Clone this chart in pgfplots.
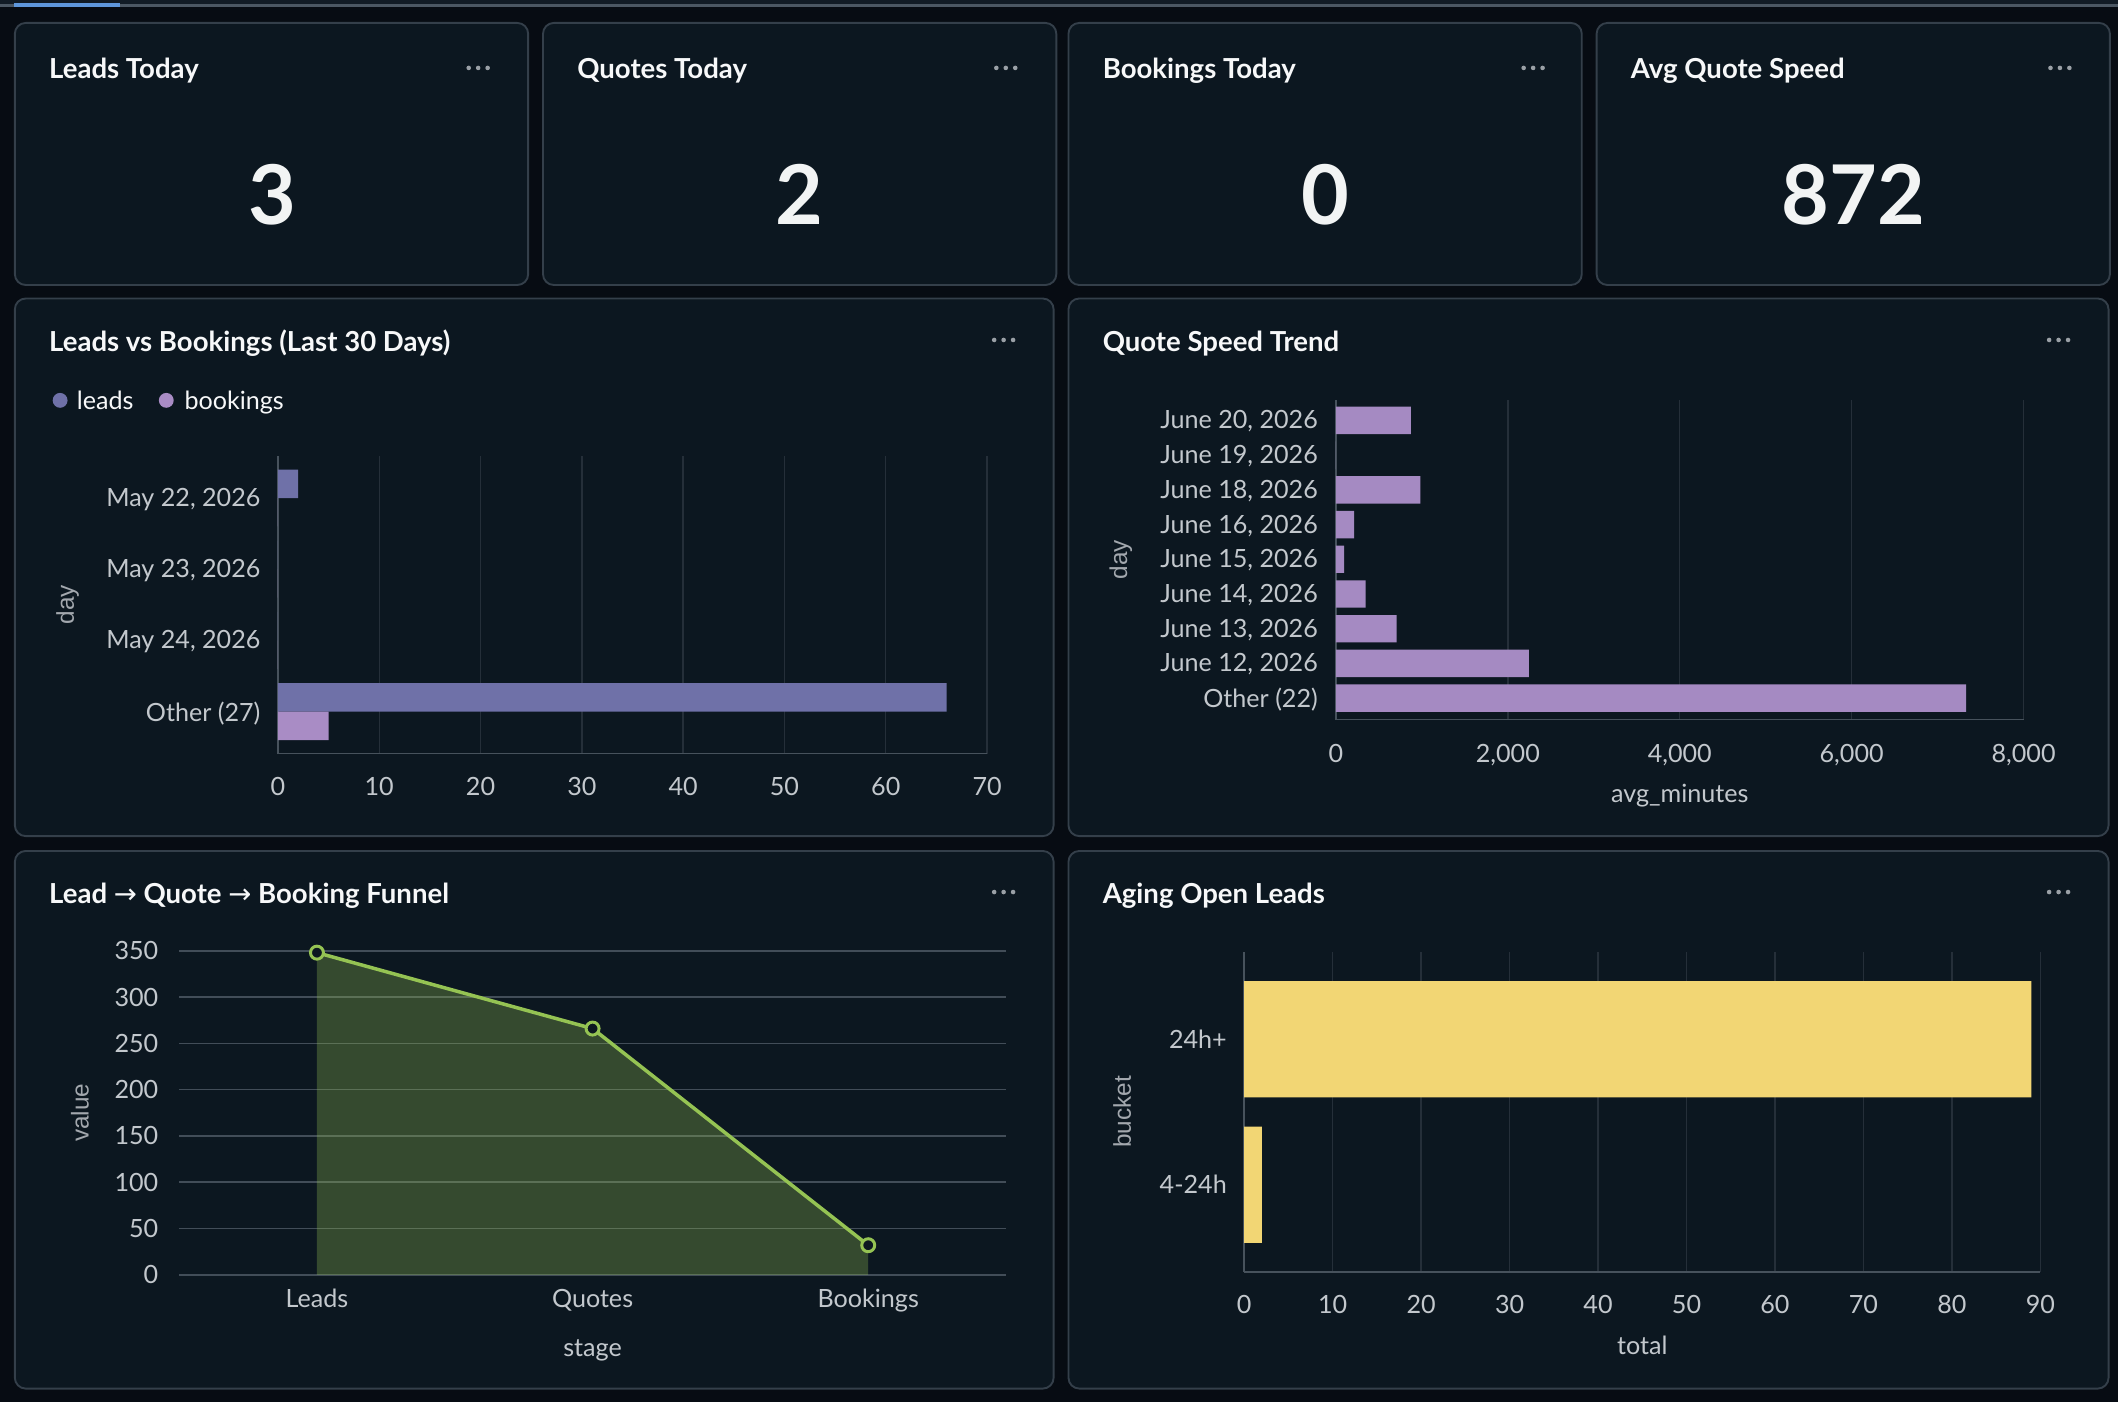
\documentclass[border=0pt]{standalone}
\usepackage{pgfplots}
\pgfplotsset{compat=1.18}
\usepackage{fontspec}
\setmainfont{Lato}
\newfontfamily\axisfont{Liberation Sans}
\newfontfamily\symfont{DejaVu Sans}

\definecolor{pagebg}{HTML}{070C13}
\definecolor{stripbg}{HTML}{111B25}
\definecolor{stripline}{HTML}{4B5763}
\definecolor{stripblue}{HTML}{5E97DC}
\definecolor{cardbg}{HTML}{0C1720}
\definecolor{cardborder}{HTML}{343F4A}
\definecolor{titlec}{HTML}{F7F8F9}
\definecolor{numc}{HTML}{F2F4F4}
\definecolor{tickc}{HTML}{C3C8CD}
\definecolor{labelc}{HTML}{A3A8AE}
\definecolor{dotc}{HTML}{9AA0A6}
\definecolor{gridc}{HTML}{252F39}
\definecolor{axisc}{HTML}{47525C}
\definecolor{fgridc}{HTML}{424D58}
\definecolor{leadsc}{HTML}{6F71A8}
\definecolor{bookc}{HTML}{A98CC5}
\definecolor{speedc}{HTML}{A58AC2}
\definecolor{agec}{HTML}{F2D674}
\definecolor{funnelc}{HTML}{95C353}

\newcommand\titlefont{\fontsize{10.2}{12}\selectfont\bfseries}
\newcommand\tickfont{\fontsize{9.3}{11}\selectfont}
\newcommand\bignum{\fontsize{30.5}{34}\selectfont\bfseries}
\newcommand\labfont{\axisfont\fontsize{9}{11}\selectfont}

% panel frame, title and menu dots (x, y measured from the top edge)
\newcommand\card[4]{\filldraw[fill=cardbg, draw=cardborder, line width=0.7pt, rounded corners=4pt] (#1,{1038-#2}) rectangle (#3,{1038-#4});}
\newcommand\cardtitle[3]{\node[anchor=base west, inner sep=0pt, text=titlec] at (#1,{1038-#2}) {\titlefont #3};}
\newcommand\menu[2]{\foreach \d in {-7,0,7} \fill[dotc] ({#1+\d},{1038-#2}) circle (1.7);}
\newcommand\kpi[2]{\node[anchor=base, inner sep=0pt, text=numc] at (#1,872) {\bignum #2};}

\pgfplotsset{
  panel/.style={
    scale only axis,
    anchor=south west,
    /pgf/number format/assume math mode=true,
    /pgf/number format/1000 sep={,},
    tick label style={font=\tickfont, text=tickc},
    xticklabel style={anchor=base, inner sep=0pt},
    yticklabel style={anchor=east, inner sep=0pt},
    major tick length=0pt,
    ylabel style={font=\labfont, text=labelc, anchor=center},
    xlabel style={font=\tickfont, text=tickc, anchor=base, at={(axis description cs:0.5,0)}},
  },
  barpanel/.style={
    panel,
    xbar,
    axis x line*=bottom, axis y line*=left,
    axis line style={draw=axisc, line width=0.6pt},
    xmajorgrids, grid style={draw=gridc, line width=0.5pt},
  },
}

\begin{document}
\begin{tikzpicture}[x=0.5pt, y=0.5pt]
% page background and loading strip
\fill[pagebg] (0,0) rectangle (1568,1038);
\fill[stripbg] (0,1035) rectangle (1568,1038);
\fill[stripline] (0,1033) rectangle (1568,1035);
\fill[stripblue] (10,1032.6) rectangle (89,1035.4);

% KPI cards
\card{11}{17}{391}{211}
\card{402}{17}{782}{211}
\card{791}{17}{1171}{211}
\card{1182}{17}{1562}{211}
\cardtitle{36}{58.5}{Leads Today}
\cardtitle{427}{58.5}{Quotes Today}
\cardtitle{816}{58.5}{Bookings Today}
\cardtitle{1207}{58.5}{Avg Quote Speed}
\menu{354}{50.3}\menu{744.6}{50.3}\menu{1135}{50.3}\menu{1525}{50.3}
\kpi{201.5}{3}
\kpi{592}{2}
\kpi{981}{0}
\kpi{1372}{872}

% chart panels
\card{11}{221}{780}{619}
\card{791}{221}{1561}{619}
\card{11}{630}{780}{1028}
\card{791}{630}{1561}{1028}
\cardtitle{36}{260}{Leads vs Bookings (Last 30 Days)}
\cardtitle{816}{260}{Quote Speed Trend}
\cardtitle{36}{669}{Lead {\symfont\mdseries →} Quote {\symfont\mdseries →} Booking Funnel}
\cardtitle{816}{669}{Aging Open Leads}
\menu{743}{251.7}\menu{1524}{251.7}\menu{743}{660.4}\menu{1524}{660.4}

% legend of the leads/bookings chart
\fill[leadsc] (44.5,{1038-296.4}) circle (5.5);
\node[anchor=base west, inner sep=0pt, text=titlec] at (56.6,{1038-303.2}) {\tickfont leads};
\fill[bookc] (123.1,{1038-296.4}) circle (5.5);
\node[anchor=base west, inner sep=0pt, text=titlec] at (136.2,{1038-303.2}) {\tickfont bookings};

% Leads vs Bookings (Last 30 Days)
\begin{axis}[barpanel,
  at={(102.85pt,240.05pt)}, width=262.55pt, height=110.15pt,
  xmin=0, xmax=70, xtick={0,10,...,70},
  ymin=-0.59, ymax=3.59, ytick={0,1,2,3},
  yticklabels={{Other (27)},{May 24, 2026},{May 23, 2026},{May 22, 2026}},
  xticklabel style={yshift=-15.5pt},
  yticklabel style={xshift=-6.25pt, yshift=-0.6pt},
  ylabel={day}, ylabel style={at={(axis description cs:-0.2965,0.5)}},
]
\addplot[fill=leadsc, draw=none, bar width=0.4, bar shift=0.2]
  coordinates {(2,3) (0,2) (0,1) (66,0)};
\addplot[fill=bookc, draw=none, bar width=0.4, bar shift=-0.2]
  coordinates {(0,3) (0,2) (0,1) (5,0)};
\end{axis}

% Quote Speed Trend
\begin{axis}[barpanel,
  at={(494.5pt,252.65pt)}, width=254.55pt, height=118.3pt,
  xmin=0, xmax=8000, xtick={0,2000,4000,6000,8000},
  scaled x ticks=false,
  ymin=-0.615, ymax=8.587, ytick={0,...,8},
  yticklabels={{Other (22)},{June 12, 2026},{June 13, 2026},{June 14, 2026},{June 15, 2026},{June 16, 2026},{June 18, 2026},{June 19, 2026},{June 20, 2026}},
  xticklabel style={yshift=-15.9pt},
  yticklabel style={xshift=-6.5pt, yshift=-0.4pt},
  ylabel={day}, ylabel style={at={(axis description cs:-0.3129,0.5)}},
  xlabel={avg\_minutes}, xlabel style={yshift=-30.7pt},
]
\addplot[fill=speedc, draw=none, bar width=0.79, bar shift=0]
  coordinates {(7333,0) (2246,1) (707,2) (346,3) (94,4) (212,5) (982,6) (0,7) (872,8)};
\end{axis}

% Lead -> Quote -> Booking Funnel
\begin{axis}[panel,
  at={(66.3pt,47.1pt)}, width=306.1pt, height=119.95pt,
  xmin=-0.5, xmax=2.5, xtick={0,1,2}, xticklabels={Leads,Quotes,Bookings},
  ymin=0, ymax=350, ytick={0,50,...,350},
  axis line style={draw=none},
  ymajorgrids, grid style={draw=fgridc, line width=0.6pt},
  xticklabel style={yshift=-11.9pt},
  yticklabel style={xshift=-7.5pt},
  ylabel={value}, ylabel style={at={(axis description cs:-0.12,0.5)}},
  xlabel={stage}, xlabel style={yshift=-30.1pt},
  clip=false,
]
\addplot[draw=none, fill=funnelc, fill opacity=0.3]
  coordinates {(0,348) (1,266) (2,32)} \closedcycle;
\addplot[funnelc, line width=1.3pt, mark=*, mark size=2.4pt,
  mark options={fill=cardbg, draw=funnelc, line width=1.1pt}]
  coordinates {(0,348) (1,266) (2,32)};
\end{axis}

% Aging Open Leads
\begin{axis}[barpanel,
  at={(460.55pt,48.2pt)}, width=294.7pt, height=118.35pt,
  xmin=0, xmax=90, xtick={0,10,...,90},
  ymin=-0.6, ymax=1.6, ytick={0,1}, yticklabels={4-24h,24h+},
  xticklabel style={yshift=-15.25pt},
  yticklabel style={xshift=-6.25pt},
  ylabel={bucket}, ylabel style={at={(axis description cs:-0.1534,0.5)}},
  xlabel={total}, xlabel style={yshift=-30.75pt},
]
\addplot[fill=agec, draw=none, bar width=0.8, bar shift=0]
  coordinates {(2,0) (89,1)};
\end{axis}

\pgfresetboundingbox
\useasboundingbox (0,0) rectangle (1568,1038);
\end{tikzpicture}
\end{document}
